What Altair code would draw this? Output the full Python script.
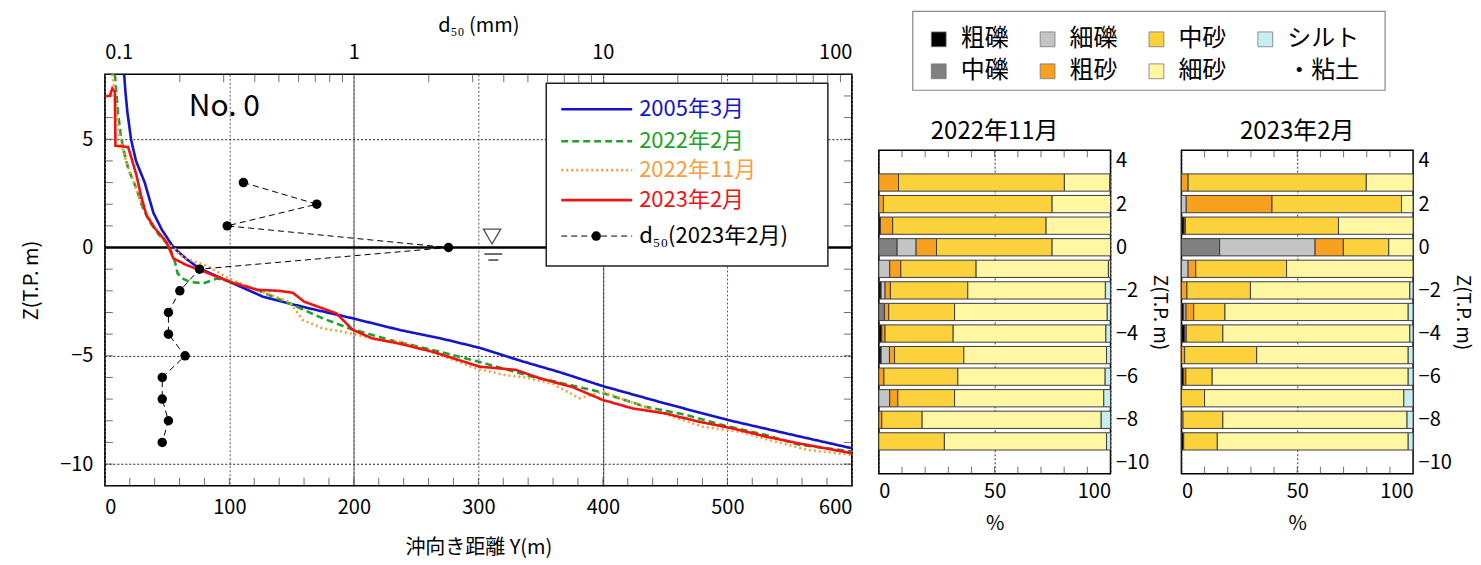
import altair as alt
import pandas as pd

FONT = "Noto Sans CJK JP"

# ---------------- profile data (offshore distance Y [m], elevation Z [T.P. m]) ----------------
y_2005 = [15.5, 16.5, 18, 21, 25, 32, 39, 46, 54, 58, 66, 76, 100, 127, 159, 199, 237, 270, 301, 335, 365, 400, 450, 500, 550, 600]
z_2005 = [8.0, 7.2, 6.3, 5.0, 4.0, 3.0, 1.6, 0.8, 0.1, -0.15, -0.55, -0.97, -1.58, -2.27, -2.74, -3.27, -3.81, -4.2, -4.63, -5.25, -5.75, -6.4, -7.2, -7.96, -8.62, -9.27]

y_2022_02 = [8, 9, 10.5, 12.5, 14.7, 19, 25.4, 30, 36, 44, 52, 56, 58.5, 63, 68, 79, 90, 100, 120, 148, 175, 196, 229, 269, 302, 343, 370, 397, 434, 467, 496, 531, 557, 600]
z_2022_02 = [8.0, 7.3, 6.25, 5.3, 4.57, 3.6, 2.72, 1.9, 1.18, 0.55, 0.03, -0.6, -1.2, -1.45, -1.58, -1.66, -1.43, -1.55, -1.9, -2.58, -3.27, -3.73, -4.27, -4.81, -5.3, -5.96, -6.3, -6.66, -7.35, -7.73, -8.2, -8.66, -9.1, -9.42]

y_2022_11 = [6, 8, 9.5, 11, 13, 17, 22, 27, 33, 40, 48, 57, 60, 70, 82, 100, 120, 148, 159, 175, 191, 215, 237, 255, 273, 298, 322, 338, 360, 381, 400, 430, 464, 480, 510, 533, 565, 600]
z_2022_11 = [8.0, 7.2, 6.2, 5.4, 4.8, 4.0, 3.2, 2.4, 1.6, 0.9, 0.3, -0.1, -0.35, -0.6, -0.85, -1.45, -1.9, -2.5, -3.35, -3.73, -3.89, -4.2, -4.35, -4.7, -5.04, -5.58, -5.9, -6.0, -6.3, -6.96, -6.66, -7.3, -7.96, -8.27, -8.5, -8.88, -9.35, -9.58]

y_2023_02 = [0, 4, 6, 8, 8.5, 18.7, 21, 25.4, 29, 33.4, 40, 49.4, 55, 65.5, 76, 100, 122, 140, 151, 160, 186, 199, 215, 236, 263, 301, 330, 351, 375, 400, 424, 450, 477, 504, 531, 557, 600]
z_2023_02 = [7.0, 7.0, 7.35, 7.2, 4.7, 4.64, 4.2, 3.34, 2.4, 1.49, 0.9, 0.26, -0.5, -0.81, -1.03, -1.58, -1.95, -2.0, -2.09, -2.5, -3.04, -3.8, -4.2, -4.43, -4.81, -5.5, -5.65, -6.07, -6.43, -7.04, -7.43, -7.66, -8.04, -8.35, -8.73, -9.04, -9.5]

# d50 (2023年2月) by elevation
d50_z = [3, 2, 1, 0, -1, -2, -3, -4, -5, -6, -7, -8, -9]
d50_mm = [0.36, 0.71, 0.31, 2.4, 0.24, 0.20, 0.18, 0.18, 0.21, 0.17, 0.17, 0.18, 0.17]

series_names = ["2005年3月", "2022年2月", "2022年11月", "2023年2月"]
series_colors = ["#1414c8", "#22a12a", "#f5a040", "#ee1414"]
series_dash = [[1, 0], [7, 4], [2, 3], [1, 0]]
d50_label = "d₅₀(2023年2月)"

# ---------------- grain size composition ----------------
levels = [3, 2, 1, 0, -1, -2, -3, -4, -5, -6, -7, -8, -9]
cats = ["粗礫", "中礫", "細礫", "粗砂", "中砂", "細砂", "シルト・粘土"]
cat_colors = ["#000000", "#808080", "#c4c4c4", "#f7a11e", "#fcd23c", "#fff7a2", "#c6eff4"]

comp_2022_11 = {
    "粗礫": [0, 0, 0.7, 0, 0, 1.0, 0, 1.3, 1.0, 0, 0, 0, 0],
    "中礫": [0, 0, 0, 7.9, 0, 0, 2.4, 0, 0, 0, 0, 0, 0],
    "細礫": [0, 0, 0, 8.2, 4.7, 1.7, 0, 0, 3.6, 0, 4.7, 0, 0],
    "粗砂": [8.5, 2.0, 5.3, 8.8, 4.8, 2.3, 1.9, 1.4, 2.2, 2.2, 3.5, 1.3, 0],
    "中砂": [71.6, 72.8, 66.2, 49.9, 32.5, 33.4, 28.4, 29.4, 29.9, 31.9, 24.5, 17.4, 28.3],
    "細砂": [19.6, 25.2, 27.8, 25.2, 57.1, 59.4, 65.9, 65.9, 61.6, 63.6, 64.4, 77.3, 70.0],
    "シルト・粘土": [0.3, 0, 0, 0, 0.9, 2.2, 1.4, 2.0, 1.7, 2.3, 2.9, 4.0, 1.7],
}
comp_2023_02 = {
    "粗礫": [0, 0, 1.2, 0, 0, 0, 1.0, 1.5, 0, 1.0, 0, 0, 1.0],
    "中礫": [0, 0, 0, 16.5, 0, 0, 0, 0, 0, 0, 0, 0, 0],
    "細礫": [0, 2.1, 0, 41.2, 2.9, 0, 1.0, 0, 0, 0, 0, 0, 0],
    "粗砂": [2.9, 37.0, 0.5, 12.2, 3.3, 2.4, 3.3, 0.6, 1.4, 0.9, 0, 0.7, 0],
    "中砂": [76.9, 55.9, 66.1, 19.6, 39.2, 27.4, 13.5, 15.8, 31.1, 11.4, 10.0, 17.2, 14.5],
    "細砂": [20.2, 5.0, 32.2, 10.5, 54.6, 68.8, 79.1, 80.7, 65.4, 84.6, 86.0, 79.5, 82.4],
    "シルト・粘土": [0, 0, 0, 0, 0, 1.4, 2.1, 1.4, 2.1, 2.1, 4.0, 2.6, 2.1],
}

# legend for grain classes (label shown, class it stands for, grid slot)
leg_labels = ["粗礫", "細礫", "中砂", "シルト", "中礫", "粗砂", "細砂"]
leg_cats = ["粗礫", "細礫", "中砂", "シルト・粘土", "中礫", "粗砂", "細砂"]
leg_cols = [0, 1, 2, 3, 0, 1, 2]
leg_rows = [0, 0, 0, 0, 1, 1, 1]

# axis tick values
dist_ticks = list(range(0, 601, 20))
z_ticks = list(range(-11, 9))
d50_minor = [a * b for b in (0.1, 1, 10) for a in range(2, 10)]
pct_ticks = list(range(10, 100, 10))

W, H = 748, 412
one = pd.DataFrame({"k": [0]})

# ---------------- left chart ----------------
ZScale = alt.Scale(domain=[-11, 8], nice=False, zero=False)
yZ = alt.Y("z:Q", scale=ZScale,
           axis=alt.Axis(values=[-10, -5, 0, 5], title="Z(T.P. m)", grid=True,
                         gridDash=[2, 2], gridColor="#222", gridWidth=1,
                         labelPadding=12, titlePadding=18, tickSize=0, domain=False))
xD = alt.X("y:Q", scale=alt.Scale(domain=[0, 600], nice=False),
           axis=alt.Axis(values=[0, 100, 200, 300, 400, 500, 600], title="沖向き距離 Y(m)",
                         grid=True, gridDash=[2, 2], gridColor="#555", gridWidth=1,
                         labelPadding=12, titlePadding=20, tickSize=0, domain=False))

def prof_df(ys, zs):
    return pd.DataFrame({"y": ys, "z": zs, "i": range(len(ys))})

profiles = [(y_2005, z_2005), (y_2022_02, z_2022_02), (y_2022_11, z_2022_11), (y_2023_02, z_2023_02)]
lines = []
for (ys, zs), col, dash in zip(profiles, series_colors, series_dash):
    lines.append(alt.Chart(prof_df(ys, zs)).mark_line(color=col, strokeWidth=2.6, strokeDash=dash).encode(
        x=xD, y=yZ, order="i:Q"))

sea = alt.Chart(pd.DataFrame({"z": [0]})).mark_rule(color="black", strokeWidth=2.5).encode(y=yZ)

xt = alt.Chart(pd.DataFrame({"y": dist_ticks})).mark_tick(color="#333", size=8, thickness=1).encode(
    x=xD, y=alt.value(H - 4))
zt_l = alt.Chart(pd.DataFrame({"z": z_ticks})).mark_tick(color="#333", size=8, thickness=1).encode(
    y=yZ, x=alt.value(4))
zt_r = alt.Chart(pd.DataFrame({"z": z_ticks})).mark_tick(color="#333", size=8, thickness=1).encode(
    y=yZ, x=alt.value(W - 4))

# water level symbol
wl = alt.Chart(pd.DataFrame({"y": [311], "z": [0]})).mark_point(
    shape="triangle-down", size=300, filled=False, color="black", strokeWidth=1.3, yOffset=-11).encode(x=xD, y=yZ)
wl1 = alt.Chart(one).mark_rule(color="#222", strokeWidth=1.3).encode(
    x=alt.value(380), x2=alt.value(398), y=alt.value(180))
wl2 = alt.Chart(one).mark_rule(color="#222", strokeWidth=1.3).encode(
    x=alt.value(384), x2=alt.value(394), y=alt.value(186))

no_label = alt.Chart(one).mark_text(text="No. 0", fontSize=30, align="left", baseline="middle", font=FONT).encode(
    x=alt.value(84), y=alt.value(33))

groupA = alt.layer(xt, zt_l, zt_r, sea, *lines, wl, wl1, wl2, no_label)

xLog = alt.X("d:Q", scale=alt.Scale(type="log", domain=[0.1, 100], nice=False),
             axis=alt.Axis(orient="top", values=[0.1, 1, 10, 100], format="~g", title="d₅₀ (mm)",
                           grid=True, gridDash=[2, 2], gridColor="#000", gridWidth=1,
                           labelPadding=12, titlePadding=7, tickSize=0, domain=False))
d50_df = pd.DataFrame({"d": d50_mm, "z": d50_z, "i": range(len(d50_z))})
d50_line = alt.Chart(d50_df).mark_line(color="black", strokeWidth=1, strokeDash=[6, 4]).encode(
    x=xLog, y=yZ, order="i:Q")
d50_pts = alt.Chart(d50_df).mark_circle(color="black", size=90, opacity=1).encode(x=xLog, y=yZ)
d50_minor_t = alt.Chart(pd.DataFrame({"d": d50_minor})).mark_tick(color="#333", size=8, thickness=1).encode(
    x=xLog, y=alt.value(4))

# line legend (box with samples)
leg_box = alt.Chart(one).mark_rect(fill="white", stroke="#222", strokeWidth=1.5).encode(
    x=alt.value(442), x2=alt.value(724), y=alt.value(9), y2=alt.value(192))
leg_rows_px = [35, 67, 96, 126, 162]
leg_layers = [leg_box]
for r, name, col, dash in zip(leg_rows_px, series_names, series_colors, series_dash):
    leg_layers.append(alt.Chart(one).mark_rule(color=col, strokeWidth=2.6, strokeDash=dash).encode(
        x=alt.value(457), x2=alt.value(528), y=alt.value(r)))
    leg_layers.append(alt.Chart(one).mark_text(text=name, color=col, fontSize=22, align="left",
                                              baseline="middle", font=FONT).encode(
        x=alt.value(535), y=alt.value(r)))
r = leg_rows_px[4]
leg_layers.append(alt.Chart(one).mark_rule(color="black", strokeWidth=1, strokeDash=[6, 4]).encode(
    x=alt.value(457), x2=alt.value(528), y=alt.value(r)))
leg_layers.append(alt.Chart(one).mark_circle(color="black", size=90, opacity=1).encode(
    x=alt.value(492), y=alt.value(r)))
leg_layers.append(alt.Chart(one).mark_text(text=d50_label, color="black", fontSize=22, align="left",
                                          baseline="middle", font=FONT).encode(
    x=alt.value(535), y=alt.value(r)))

groupB = alt.layer(d50_minor_t, d50_line, d50_pts, *leg_layers)

left = alt.layer(groupA, groupB).resolve_scale(x="independent").properties(width=W, height=H)

# ---------------- bar panels ----------------
BW, BH = 232, 324
cat_scale = alt.Scale(domain=cats, range=cat_colors)

def panel(title, comp):
    rows = []
    for ci, c in enumerate(cats):
        for z, v in zip(levels, comp[c]):
            rows.append({"cat": c, "ci": ci, "z": z, "pct": v})
    df = pd.DataFrame(rows)
    xP = alt.X("p0:Q", scale=alt.Scale(domain=[0, 100], nice=False),
               axis=alt.Axis(values=[0, 50, 100], title="%", grid=True, gridDash=[2, 2], gridColor="#333",
                             labelPadding=8, titlePadding=12, tickSize=0, domain=False))
    yP = alt.Y("zlo:Q", scale=alt.Scale(domain=[-10.5, 4.5], nice=False, zero=False),
               axis=alt.Axis(orient="right", values=list(range(-10, 5, 2)), title="Z(T.P. m)",
                             titleAngle=90, labelPadding=5, titlePadding=1, tickSize=0, grid=False,
                             domain=False, titleFontSize=19))
    bars = alt.Chart(df).transform_filter("datum.pct > 0").transform_stack(
        stack="pct", as_=["p0", "p1"], groupby=["z"], sort=[alt.SortField("ci")]
    ).transform_calculate(zlo="datum.z - 0.4", zhi="datum.z + 0.4").mark_bar(
        stroke="#3c3c3c", strokeWidth=1).encode(
        x=xP, x2="p1:Q", y=yP, y2="zhi:Q",
        color=alt.Color("cat:N", scale=cat_scale, legend=None))
    tdf = pd.DataFrame({"p0": pct_ticks})
    tt = alt.Chart(tdf).mark_tick(color="#333", size=7, thickness=1).encode(x=xP, y=alt.value(3.5))
    tb = alt.Chart(tdf).mark_tick(color="#333", size=7, thickness=1).encode(x=xP, y=alt.value(BH - 3.5))
    return alt.layer(tt, tb, bars).properties(
        width=BW, height=BH,
        title=alt.TitleParams(title, fontSize=24, font=FONT, fontWeight="normal", offset=6))

p1 = panel("2022年11月", comp_2022_11)
p2 = panel("2023年2月", comp_2023_02)

# ---------------- grain class legend (drawn above its small view) ----------------
leg_df = pd.DataFrame({"lname": leg_labels, "cat": leg_cats, "col": leg_cols, "row": leg_rows})
LX = alt.X("col:Q", scale=alt.Scale(domain=[0, 3], range=[60, 387]), axis=None)
LY = alt.Y("row:Q", scale=alt.Scale(domain=[0, 1], range=[-35, -3]), axis=None)
sq = alt.Chart(leg_df).mark_square(size=220, stroke="#777", strokeWidth=0.8, opacity=1).encode(
    x=LX, y=LY, color=alt.Color("cat:N", scale=cat_scale, legend=None))
tx = alt.Chart(leg_df).mark_text(align="left", baseline="middle", dx=22, fontSize=24, font=FONT).encode(
    x=LX, y=LY, text="lname:N")
clay = alt.Chart(pd.DataFrame({"col": [3], "row": [1], "lname": ["・粘土"]})).mark_text(
    align="right", baseline="middle", dx=94, fontSize=24, font=FONT).encode(x=LX, y=LY, text="lname:N")
box = alt.Chart(one).mark_rect(fill=None, stroke="#888", strokeWidth=1.2).encode(
    x=alt.value(34), x2=alt.value(507), y=alt.value(-63), y2=alt.value(16))
legend_chart = alt.layer(box, sq, tx, clay).properties(
    width=520, height=20, view=alt.ViewBackground(strokeOpacity=0))

right = alt.vconcat(legend_chart, alt.hconcat(p1, p2, spacing=9), spacing=25).resolve_scale(color="shared")

chart = alt.hconcat(left, right, spacing=19).properties(
    padding={"left": 12, "top": 2, "right": 0, "bottom": 0}
).configure_view(stroke="black", strokeWidth=1.5).configure_axis(
    labelFont=FONT, titleFont=FONT, labelFontSize=20, titleFontSize=20, titleFontWeight="normal",
    labelColor="black", titleColor="black"
).configure_text(font=FONT)

chart.save("out.html", embed_options={"renderer": "svg", "actions": False})
